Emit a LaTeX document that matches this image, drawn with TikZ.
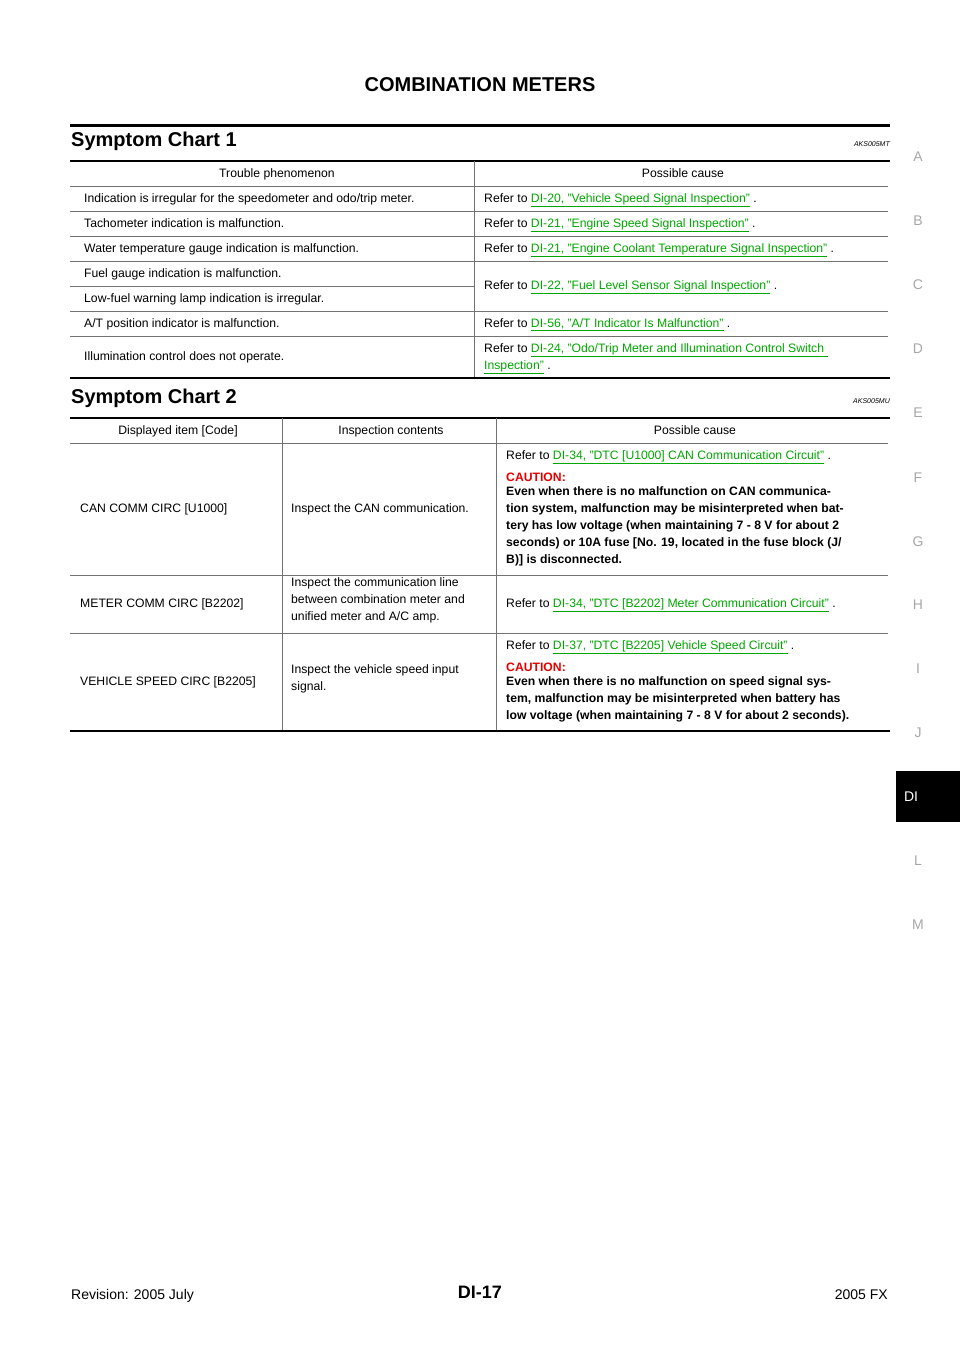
\documentclass[tikz,border=0pt]{standalone}
\usepackage{fontspec}
\setmainfont{Liberation Sans}
\begin{document}
\begin{tikzpicture}[x=1pt,y=-1pt,
  t/.style={anchor=base west,inner sep=0pt,font=\fontsize{12.2}{14.5}\selectfont},
  tc/.style={anchor=base,inner sep=0pt,font=\fontsize{12.2}{14.5}\selectfont},
  tb/.style={anchor=base west,inner sep=0pt,font=\fontsize{12.2}{17}\selectfont\bfseries,align=left},
  side/.style={anchor=center,inner sep=0pt,text=black!35,font=\fontsize{14}{14}\selectfont},
  thin/.style={line width=0.7pt,black!55},
  thick/.style={line width=2pt}]
\newcommand\lk[1]{\textcolor{green!65!black}{\underline{#1}}}
\useasboundingbox (0,0) rectangle (960,1358);
\node[anchor=center,font=\fontsize{20}{20}\selectfont\bfseries] (title) at (480,85) {COMBINATION METERS};
\draw[line width=3pt] (70,125) -- (890,125);
\node[anchor=base west,inner sep=0pt,font=\fontsize{20}{20}\selectfont\bfseries] (h1) at (71,146) {Symptom Chart 1};
\node[anchor=base east,inner sep=0pt,font=\fontsize{7}{7}\selectfont\itshape] (c1) at (890,146) {AKS005MT};
% table 1
\draw[thick] (70,161) -- (890,161);
\foreach \y in {186,211,236,261,311,336} \draw[thin] (70,\y) -- (888,\y);
\draw[thin] (70,286) -- (474,286);
\draw[thin] (474,161) -- (474,378);
\draw[thick] (70,378) -- (890,378);
\node[tc] (a0) at (277,177) {Trouble phenomenon};
\node[tc] (b0) at (683,177) {Possible cause};
\node[t] (a1) at (84,202) {Indication is irregular for the speedometer and odo/trip meter.};
\node[t] (a2) at (84,227) {Tachometer indication is malfunction.};
\node[t] (a3) at (84,252) {Water temperature gauge indication is malfunction.};
\node[t] (a4) at (84,277) {Fuel gauge indication is malfunction.};
\node[t] (a5) at (84,302) {Low-fuel warning lamp indication is irregular.};
\node[t] (a6) at (84,327) {A/T position indicator is malfunction.};
\node[t] (a7) at (84,360) {Illumination control does not operate.};
\node[t] (b1) at (484,202) {Refer to \lk{DI-20, "Vehicle Speed Signal Inspection"} .};
\node[t] (b2) at (484,227) {Refer to \lk{DI-21, "Engine Speed Signal Inspection"} .};
\node[t] (b3) at (484,252) {Refer to \lk{DI-21, "Engine Coolant Temperature Signal Inspection"} .};
\node[t] (b4) at (484,289) {Refer to \lk{DI-22, "Fuel Level Sensor Signal Inspection"} .};
\node[t] (b6) at (484,327) {Refer to \lk{DI-56, "A/T Indicator Is Malfunction"} .};
\node[t] (b7) at (484,352) {Refer to \lk{DI-24, "Odo/Trip Meter and Illumination Control Switch }};
\node[t] (b7b) at (484,369) {\lk{Inspection"} .};
% chart 2
\node[anchor=base west,inner sep=0pt,font=\fontsize{20}{20}\selectfont\bfseries] (h2) at (71,403) {Symptom Chart 2};
\node[anchor=base east,inner sep=0pt,font=\fontsize{7}{7}\selectfont\itshape] (c2) at (890,403) {AKS005MU};
\draw[thick] (70,418) -- (890,418);
\foreach \y in {443,575,633} \draw[thin] (70,\y) -- (888,\y);
\draw[thin] (282,418) -- (282,731);
\draw[thin] (496,418) -- (496,731);
\draw[thick] (70,731) -- (890,731);
\node[tc] (d0) at (178,434) {Displayed item [Code]};
\node[tc] (e0) at (391,434) {Inspection contents};
\node[tc] (f0) at (695,434) {Possible cause};
\node[t] (d1) at (80,512) {CAN COMM CIRC [U1000]};
\node[t] (e1) at (291,512) {Inspect the CAN communication.};
\node[t] (f1) at (506,459) {Refer to \lk{DI-34, "DTC [U1000] CAN Communication Circuit"} .};
\node[tb,text=red!90!black] (f1c) at (506,481) {CAUTION:};
\node[tb,anchor=north west] (f1t) at (506,486) {Even when there is no malfunction on CAN communica-\\tion system, malfunction may be misinterpreted when bat-\\tery has low voltage (when maintaining 7 - 8 V for about 2\\seconds) or 10A fuse [No. 19, located in the fuse block (J/\\B)] is disconnected.};
\node[t] (d2) at (80,607) {METER COMM CIRC [B2202]};
\node[t,align=left,anchor=north west,font=\fontsize{12.2}{17}\selectfont] (e2) at (291,577) {Inspect the communication line\\between combination meter and\\unified meter and A/C amp.};
\node[t] (f2) at (506,607) {Refer to \lk{DI-34, "DTC [B2202] Meter Communication Circuit"} .};
\node[t] (d3) at (80,685) {VEHICLE SPEED CIRC [B2205]};
\node[t,align=left,anchor=north west,font=\fontsize{12.2}{17}\selectfont] (e3) at (291,664) {Inspect the vehicle speed input\\signal.};
\node[t] (f3) at (506,649) {Refer to \lk{DI-37, "DTC [B2205] Vehicle Speed Circuit"} .};
\node[tb,text=red!90!black] (f3c) at (506,671) {CAUTION:};
\node[tb,anchor=north west] (f3t) at (506,676) {Even when there is no malfunction on speed signal sys-\\tem, malfunction may be misinterpreted when battery has\\low voltage (when maintaining 7 - 8 V for about 2 seconds).};
% side tabs
\foreach \l/\y in {A/157,B/221,C/285,D/349,E/413,F/478,G/542,H/605,I/669,J/733,L/861,M/925}
  \node[side] (s\l) at (918,\y) {\l};
\fill (896,771) rectangle (960,822);
\node[side,text=white] (sDI) at (911,797) {DI};
% footer
\node[anchor=base west,inner sep=0pt,font=\fontsize{14}{14}\selectfont] (rev) at (71,1299) {Revision: 2005 July};
\node[anchor=base,inner sep=0pt,font=\fontsize{18}{18}\selectfont\bfseries] (pg) at (480,1298) {DI-17};
\node[anchor=base east,inner sep=0pt,font=\fontsize{14}{14}\selectfont] (fx) at (888,1299) {2005 FX};
\end{tikzpicture}
\end{document}
